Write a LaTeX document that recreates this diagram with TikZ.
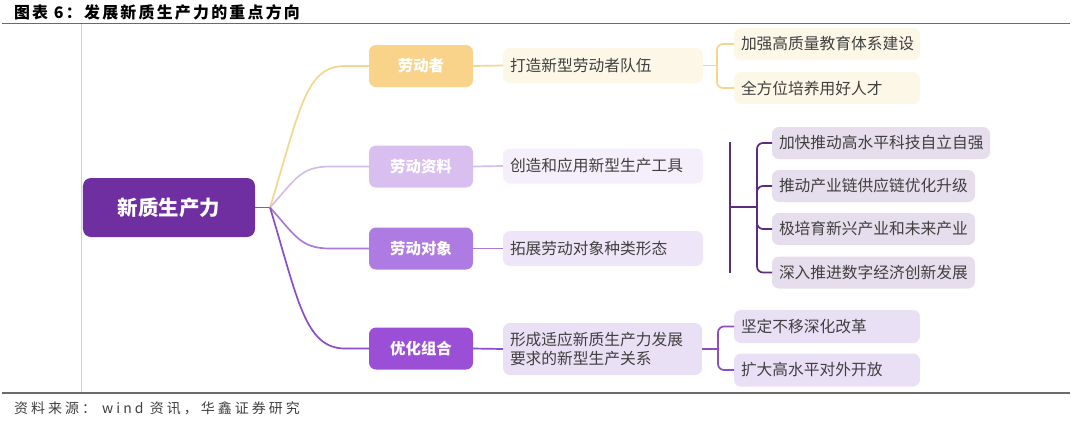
\documentclass[tikz,border=0pt]{standalone}
\usepackage{fontspec}
\setmainfont{Noto Sans CJK SC}
\definecolor{rootc}{HTML}{6F2FA0}
\definecolor{b1c}{HTML}{F9D38A}
\definecolor{b2c}{HTML}{D9BFF0}
\definecolor{b3c}{HTML}{AE7BE2}
\definecolor{b4c}{HTML}{9B4FD6}
\definecolor{l1c}{HTML}{F6D68E}
\definecolor{l2c}{HTML}{D5BDEB}
\definecolor{l3c}{HTML}{A87ADA}
\definecolor{l4c}{HTML}{8B4EC8}
\definecolor{midc}{HTML}{5E2B7E}
\definecolor{f1c}{HTML}{FDF7E8}
\definecolor{f2c}{HTML}{F4EFFB}
\definecolor{f3c}{HTML}{EEE6F8}
\definecolor{f4c}{HTML}{EAE0F6}
\definecolor{fmc}{HTML}{E6DEEC}
\definecolor{txt}{HTML}{404040}
\definecolor{rulec}{HTML}{6A6A6A}
\begin{document}
\begin{tikzpicture}[x=1bp,y=-1bp,
  every node/.style={inner sep=0pt, outer sep=0pt},
  rootbox/.style={fill=rootc, rounded corners=8bp, minimum width=172bp, minimum height=59bp, text=white, font=\fontsize{20.5}{22}\selectfont\bfseries},
  brbox/.style={rounded corners=7bp, minimum width=104bp, minimum height=42bp, text=white, font=\fontsize{15.5}{18}\selectfont\bfseries},
  leafbox/.style={rounded corners=7bp, inner xsep=7bp, align=left, text=txt, font=\fontsize{15.8}{20}\selectfont},
  conn/.style={line width=1.7bp},
  brk/.style={line width=1.7bp, rounded corners=6bp}
]
\fill[white] (0,0) rectangle (1080,423);
\useasboundingbox (0,0) rectangle (1080,423);

% frame lines
\draw[rulec, line width=1.6bp] (2,23.5) -- (1070,23.5);
\draw[rulec, line width=1.6bp] (2,393) -- (1070,393);
\draw[black!18, line width=0.6bp] (81,24) -- (81,392);

% title and source
\node[anchor=west, font=\fontsize{16}{18}\selectfont\bfseries\addfontfeatures{LetterSpace=14}] (title) at (14,12) {图表 6：发展新质生产力的重点方向};
\node[anchor=west, text=black!75, font=\fontsize{14}{16}\selectfont\addfontfeatures{LetterSpace=22}] (src) at (14,408) {资料来源： wind 资讯，华鑫证券研究};

% root
\node[rootbox] (root) at (169,207.5) {新质生产力};

% branch nodes
\node[brbox, fill=b1c] (b1) at (421,66) {劳动者};
\node[brbox, fill=b2c] (b2) at (421,166.5) {劳动资料};
\node[brbox, fill=b3c] (b3) at (421,248.5) {劳动对象};
\node[brbox, fill=b4c] (b4) at (421,348.5) {优化组合};

% level 2
\node[leafbox, fill=f1c, text width=186bp, minimum height=35bp] (t1) at (603,65.5) {打造新型劳动者队伍};
\node[leafbox, fill=f2c, text width=186bp, minimum height=35bp] (t2) at (603,166) {创造和应用新型生产工具};
\node[leafbox, fill=f3c, text width=186bp, minimum height=35bp] (t3) at (603,248.5) {拓展劳动对象种类形态};
\node[leafbox, fill=f4c, text width=185bp, minimum height=52bp] (t4) at (602.5,349) {形成适应新质生产力发展\\要求的新型生产关系};

% level 3
\node[leafbox, fill=f1c, text width=172bp, minimum height=32bp] (y1) at (827,44) {加强高质量教育体系建设};
\node[leafbox, fill=f1c, text width=172bp, minimum height=32bp] (y2) at (827,88) {全方位培养用好人才};
\node[leafbox, fill=fmc, text width=204bp, minimum height=32bp] (m1) at (881,143) {加快推动高水平科技自立自强};
\node[leafbox, fill=fmc, text width=189bp, minimum height=32bp] (m2) at (873.5,186) {推动产业链供应链优化升级};
\node[leafbox, fill=fmc, text width=189bp, minimum height=32bp] (m3) at (873.5,229) {极培育新兴产业和未来产业};
\node[leafbox, fill=fmc, text width=189bp, minimum height=32bp] (m4) at (873.5,272.5) {深入推进数字经济创新发展};
\node[leafbox, fill=f4c, text width=172bp, minimum height=33bp] (p1) at (827,326.5) {坚定不移深化改革};
\node[leafbox, fill=f4c, text width=172bp, minimum height=33bp] (p2) at (827,370) {扩大高水平对外开放};

% root connectors
\coordinate (j) at (270,207.5);
\draw[conn, l4c] (root.east) -- (j);
\draw[conn, l1c] (j) .. controls (300,110) and (305,66) .. (345,66) -- (b1.west);
\draw[conn, l2c] (j) .. controls (295,180) and (300,166.5) .. (330,166.5) -- (b2.west);
\draw[conn, l3c] (j) .. controls (295,235) and (300,248.5) .. (330,248.5) -- (b3.west);
\draw[conn, l4c] (j) .. controls (298,300) and (305,348.5) .. (345,348.5) -- (b4.west);

% branch to level 2
\draw[conn, l1c] (b1.east) -- (t1.west);
\draw[conn, l2c] (b2.east) -- (t2.west);
\draw[conn, l3c] (b3.east) -- (t3.west);
\draw[conn, l4c] (b4.east) -- (t4.west);

% yellow bracket
\coordinate (k1) at (717,65.5);
\draw[conn, l1c] (t1.east) -- (k1);
\draw[brk, l1c] (k1) |- (y1.west);
\draw[brk, l1c] (k1) |- (y2.west);

% middle bracket
\coordinate (va) at (730,142);
\coordinate (vb) at (730,273);
\coordinate (vm) at (730,207);
\coordinate (k2) at (757,207);
\draw[conn, midc] (va) -- (vb);
\draw[conn, midc] (vm) -- (k2);
\draw[brk, midc] (k2) |- (m1.west);
\draw[brk, midc] (k2) |- (m2.west);
\draw[brk, midc] (k2) |- (m3.west);
\draw[brk, midc] (k2) |- (m4.west);

% bottom bracket
\coordinate (k3) at (718,349);
\draw[conn, l4c] (t4.east) -- (k3);
\draw[brk, l4c] (k3) |- (p1.west);
\draw[brk, l4c] (k3) |- (p2.west);
\end{tikzpicture}
\end{document}
